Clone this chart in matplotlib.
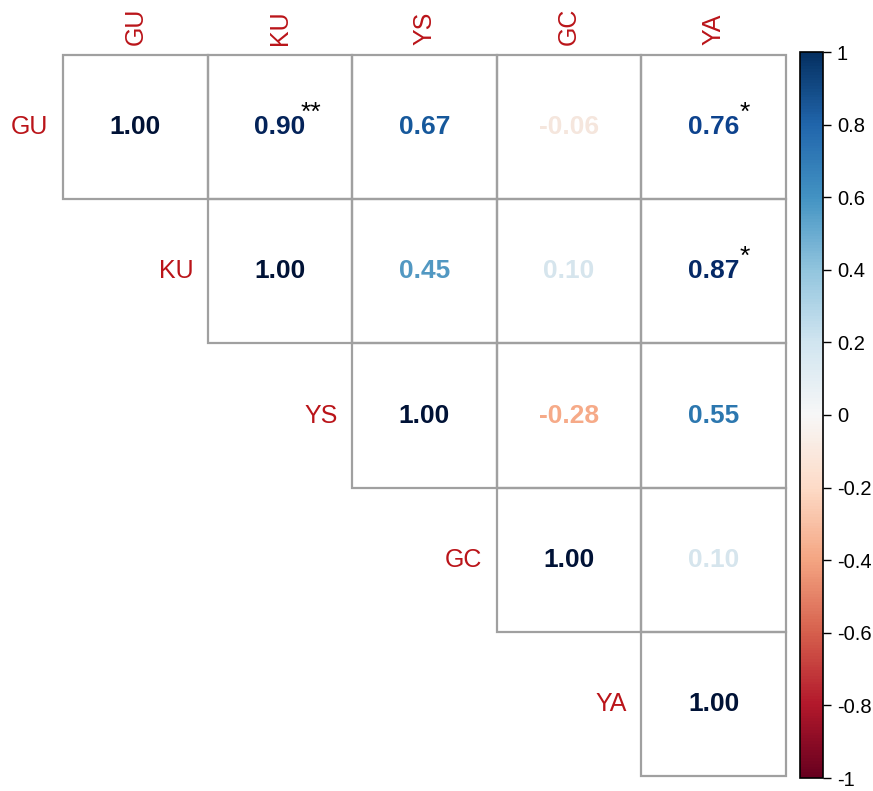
import matplotlib
matplotlib.use('Agg')
import matplotlib.pyplot as plt
import numpy as np
from matplotlib.colors import Normalize
from matplotlib.cm import ScalarMappable

plt.rcParams['font.family'] = ['Liberation Sans', 'DejaVu Sans']

# variables and upper-triangle correlations
labels = ['GU', 'KU', 'YS', 'GC', 'YA']
row_gu = [1.00, 0.90, 0.67, -0.06, 0.76]
row_ku = [1.00, 0.45, 0.10, 0.87]
row_ys = [1.00, -0.28, 0.55]
row_gc = [1.00, 0.10]
row_ya = [1.00]
stars = {(0, 1): '**', (0, 4): '*', (1, 4): '*'}

rows = [row_gu, row_ku, row_ys, row_gc, row_ya]
n = len(labels)
corr = np.full((n, n), np.nan)
for i, r in enumerate(rows):
    corr[i, i:] = r

cmap = plt.get_cmap('RdBu')
norm = Normalize(-1, 1)
label_col = '#BA1419'
grid_col = '#a0a0a0'


def text_color(v):
    # numbers are printed a bit deeper than the legend colours
    r, g, b, _ = cmap(norm(v))
    return (r ** 1.6, g ** 1.6, b ** 1.6)


fig = plt.figure(figsize=(8.73, 7.91), dpi=100)
ax = fig.add_axes([63 / 873, 1 - 776 / 791, 723 / 873, 721 / 791])
ax.set_xlim(0, n)
ax.set_ylim(n, 0)
ax.axis('off')

for i in range(n):
    for j in range(i, n):
        v = corr[i, j]
        ax.add_patch(plt.Rectangle((j, i), 1, 1, fill=False, edgecolor=grid_col,
                                   lw=1.6, clip_on=False))
        ax.text(j + 0.5, i + 0.5, '%.2f' % v, ha='center', va='center',
                fontsize=19, fontweight='bold', color=text_color(v))
        if (i, j) in stars:
            ax.text(j + 0.715, i + 0.40, stars[(i, j)], ha='center', va='center',
                    fontsize=19, color='black')

# column labels on top, row labels left of the diagonal
for j, lab in enumerate(labels):
    ax.text(j + 0.5, -0.07, lab, rotation=90, ha='center', va='bottom',
            fontsize=18, color=label_col)
for i, lab in enumerate(labels):
    ax.text(i - 0.1, i + 0.5, lab, ha='right', va='center',
            fontsize=18, color=label_col)

cax = fig.add_axes([800 / 873, 1 - 778 / 791, 23 / 873, 726 / 791])
sm = ScalarMappable(norm=norm, cmap=cmap)
cb = fig.colorbar(sm, cax=cax)
ticks = [1, 0.8, 0.6, 0.4, 0.2, 0, -0.2, -0.4, -0.6, -0.8, -1]
cb.set_ticks(ticks)
cb.set_ticklabels(['1', '0.8', '0.6', '0.4', '0.2', '0', '-0.2', '-0.4', '-0.6', '-0.8', '-1'])
cb.ax.tick_params(labelsize=14.5, length=6, width=1, color='black', pad=4)
cb.outline.set_linewidth(1.2)
cb.outline.set_edgecolor('black')

fig.savefig('out.png', dpi=100)
